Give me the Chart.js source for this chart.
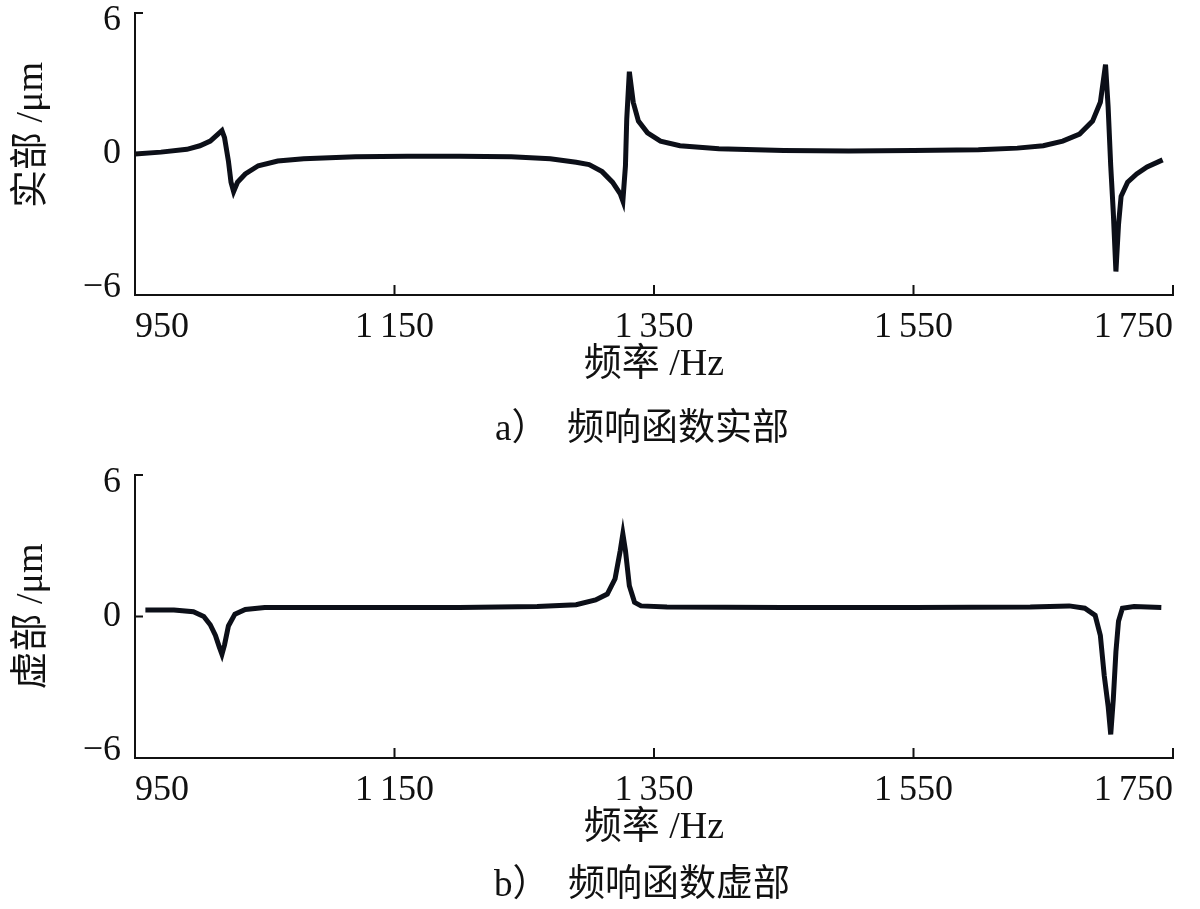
<!DOCTYPE html>
<html>
<head>
<meta charset="utf-8">
<script src="https://cdn.jsdelivr.net/npm/chart.js@4/dist/chart.umd.min.js"></script>
<style>
  html, body { margin: 0; padding: 0; background: #fff; }
  #wrap { position: relative; width: 1200px; height: 909px; }
  .box { position: absolute; left: 0; width: 1200px; }
</style>
</head>
<body>
<div id="wrap">
  <div class="box" style="top:0;height:455px"><canvas id="c1"></canvas></div>
  <div class="box" style="top:455px;height:454px"><canvas id="c2"></canvas></div>
</div>
<script>
// ---- data ----
const realFreq = [950, 970, 990, 1000, 1008, 1014, 1017, 1019, 1022, 1024, 1026, 1029, 1035, 1045, 1060, 1080, 1120, 1160, 1200, 1240, 1270, 1290, 1300, 1310, 1318, 1324, 1326, 1328, 1329, 1331, 1334, 1338, 1345, 1355, 1370, 1400, 1450, 1500, 1550, 1600, 1630, 1650, 1665, 1678, 1688, 1694, 1698, 1700, 1702, 1704, 1706, 1708, 1710, 1715, 1722, 1730, 1742];
const realVals = [0.0, 0.08, 0.2, 0.35, 0.55, 0.85, 1.0, 0.7, -0.3, -1.2, -1.6, -1.2, -0.85, -0.5, -0.3, -0.2, -0.12, -0.1, -0.1, -0.12, -0.2, -0.35, -0.45, -0.75, -1.2, -1.7, -2.0, -0.5, 1.5, 3.5, 2.2, 1.4, 0.9, 0.55, 0.35, 0.22, 0.15, 0.13, 0.15, 0.18, 0.25, 0.35, 0.55, 0.85, 1.4, 2.2, 3.8, 2.0, -0.5, -2.5, -5.0, -3.0, -1.8, -1.2, -0.85, -0.55, -0.25];

const imagFreq = [958, 980, 995, 1003, 1008, 1012, 1015, 1017, 1019, 1022, 1027, 1035, 1050, 1100, 1200, 1260, 1290, 1305, 1314, 1320, 1324, 1326, 1328, 1331, 1335, 1340, 1360, 1450, 1550, 1640, 1670, 1682, 1690, 1694, 1697, 1700, 1702, 1704, 1706, 1708, 1711, 1720, 1741];
const imagVals = [0.28, 0.28, 0.2, 0.0, -0.35, -0.8, -1.3, -1.6, -1.2, -0.4, 0.1, 0.3, 0.38, 0.38, 0.38, 0.42, 0.5, 0.7, 0.95, 1.6, 2.8, 3.5, 2.8, 1.3, 0.6, 0.45, 0.4, 0.38, 0.38, 0.4, 0.45, 0.35, 0.05, -0.8, -2.5, -3.8, -5.0, -3.5, -1.5, -0.2, 0.35, 0.42, 0.38];

const xTicks = [950, 1150, 1350, 1550, 1750];
const yTicks = [-6, 0, 6];
const xTitle = '频率 /Hz';
const yTitles = ['\u3000实部 /μm', '虚部 /μm'];
const captions = ['\u3000\u3000\u3000a）\u3000频响函数实部', '\u3000\u3000\u3000b）\u3000频响函数虚部'];

// ---- helpers ----
const FAM = "'Liberation Serif', 'Noto Sans CJK SC', serif";
const INK = '#111111';
const LINE = '#0c0f18';

function fmtX(v) {
  const s = String(v);
  return s.length > 3 ? s.slice(0, s.length - 3) + '\u2009' + s.slice(-3) : s;
}
function fmtY(v) {
  const s = v < 0 ? '\u2212' + Math.abs(v) : String(v);
  // end labels sit slightly inside the axis range, as in the reference
  if (v === 6) return ['', s];
  if (v === -6) return [s, ''];
  return s;
}
function yTickFont(ctx) {
  const v = ctx.tick ? ctx.tick.value : 0;
  let lh = 1.2;
  if (v === 6) lh = 16 / 36;
  if (v === -6) lh = 14 / 36;
  return { family: FAM, size: 36, lineHeight: lh };
}

const inwardTicks = {
  id: 'inwardTicks',
  afterDraw(chart) {
    const { ctx, scales: { x, y } } = chart;
    ctx.save();
    ctx.strokeStyle = INK;
    ctx.lineWidth = 2;
    ctx.beginPath();
    x.ticks.forEach(t => {
      const px = x.getPixelForValue(t.value);
      ctx.moveTo(px, x.top);
      ctx.lineTo(px, x.top - 10);
    });
    y.ticks.forEach(t => {
      const py = y.getPixelForValue(t.value);
      ctx.moveTo(y.right, py);
      ctx.lineTo(y.right + 8, py);
    });
    ctx.stroke();
    ctx.restore();
  }
};

function makeChart(id, freq, vals, yTitle, caption, geo) {
  const pts = freq.map((f, i) => ({ x: f, y: vals[i] }));
  return new Chart(document.getElementById(id), {
    type: 'line',
    data: {
      datasets: [{
        data: pts,
        borderColor: LINE,
        borderWidth: 5,
        pointRadius: 0,
        tension: 0,
        fill: false
      }]
    },
    options: {
      responsive: true,
      maintainAspectRatio: false,
      animation: false,
      events: [],
      layout: { padding: { top: geo.top, right: 27, bottom: geo.padBottom, left: 0 } },
      plugins: {
        legend: { display: false },
        tooltip: { enabled: false },
        title: {
          display: true,
          position: 'bottom',
          text: caption,
          color: INK,
          font: { family: FAM, size: 37, weight: 'normal', lineHeight: 1.2 },
          padding: 0
        }
      },
      scales: {
        x: {
          type: 'linear',
          min: 950, max: 1750,
          afterBuildTicks: s => { s.ticks = xTicks.map(v => ({ value: v })); },
          afterFit: s => { s.height = geo.xHeight; s.paddingLeft = 0; s.paddingRight = 0; },
          grid: { display: false },
          border: { display: true, color: INK, width: 2 },
          ticks: {
            color: INK,
            align: 'inner',
            padding: 3,
            maxRotation: 0,
            autoSkip: false,
            font: { family: FAM, size: 36, lineHeight: 1.2 },
            callback: v => fmtX(v)
          },
          title: {
            display: true,
            text: xTitle,
            color: INK,
            font: { family: FAM, size: 38, lineHeight: 1.2 },
            padding: { top: 0, bottom: geo.xTitlePad }
          }
        },
        y: {
          min: -6, max: 6,
          afterBuildTicks: s => { s.ticks = yTicks.map(v => ({ value: v })); },
          afterFit: s => { s.width = 135; s.paddingTop = 0; s.paddingBottom = 0; },
          grid: { display: false },
          border: { display: true, color: INK, width: 2 },
          ticks: {
            color: INK,
            padding: 6,
            font: yTickFont,
            callback: v => fmtY(v)
          },
          title: {
            display: true,
            text: yTitle,
            color: INK,
            font: { family: FAM, size: 38, lineHeight: 1.2 },
            padding: { top: 9, bottom: 0 }
          }
        }
      }
    },
    plugins: [inwardTicks]
  });
}

makeChart('c1', realFreq, realVals, yTitles[0], captions[0],
  { top: 13, padBottom: 2.8, xHeight: 112.8, xTitlePad: 20 });
makeChart('c2', imagFreq, imagVals, yTitles[1], captions[1],
  { top: 20, padBottom: 0.8, xHeight: 105.8, xTitlePad: 13 });
</script>
</body>
</html>
